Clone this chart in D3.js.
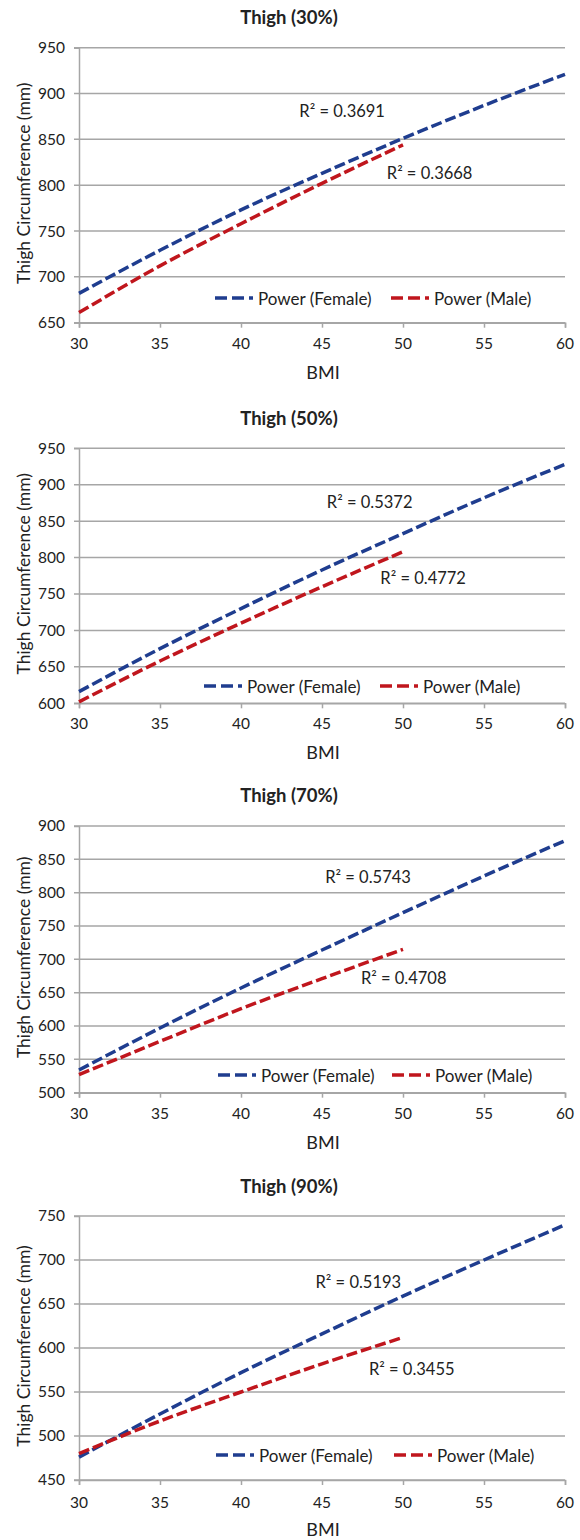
<!DOCTYPE html>
<html>
<head>
<meta charset="utf-8">
<script src="https://cdn.jsdelivr.net/npm/d3@7"></script>
<style>
  body { margin: 0; background: #fff; }
  svg text { font-family: Lato, "Open Sans", sans-serif; fill: #222; }
</style>
</head>
<body>
<svg id="chart" width="580" height="1540"></svg>
<script>
const bmiFemale = [30, 35, 40, 45, 50, 55, 60];
const bmiMale = [30, 35, 40, 45, 50];
const xTicks = [30, 35, 40, 45, 50, 55, 60];

const titles = ["Thigh (30%)", "Thigh (50%)", "Thigh (70%)", "Thigh (90%)"];

// thigh circumference (mm) for each panel
const female30 = [682, 729, 773, 813, 851, 887, 921];
const male30 = [661, 712, 758, 802, 844];
const female50 = [616, 675, 730, 783, 833, 882, 928];
const male50 = [602, 658, 710, 760, 808];
const female70 = [534, 597, 657, 714, 770, 825, 878];
const male70 = [527, 577, 626, 671, 715];
const female90 = [476, 525, 572, 616, 659, 700, 740];
const male90 = [480, 517, 550, 582, 612];

const yDomains = [[650, 950], [600, 950], [500, 900], [450, 750]];
const yTicksStep = 50;

const r2Female = ["0.3691", "0.5372", "0.5743", "0.5193"];
const r2Male = ["0.3668", "0.4772", "0.4708", "0.3455"];
// where the R² labels sit, in BMI / mm
const r2FemalePos = [[43.6, 881], [45.3, 876], [45.2, 823], [44.6, 675]];
const r2MalePos = [[49.0, 813], [48.6, 772], [47.4, 672], [47.9, 576]];

const femaleSeries = [female30, female50, female70, female90];
const maleSeries = [male30, male50, male70, male90];

// layout of each panel on the page
const layout = [
    { top: 47.7, bottom: 322.7, title: 17, tick: 343, bmi: 372, legY: 298, legF: 136, legM: 312 },
    { top: 448.3, bottom: 703.3, title: 418, tick: 723, bmi: 752, legY: 686, legF: 125, legM: 301 },
    { top: 826, bottom: 1092.7, title: 795, tick: 1113, bmi: 1142, legY: 1075, legF: 139, legM: 313 },
    { top: 1216, bottom: 1480, title: 1186, tick: 1502, bmi: 1529, legY: 1455, legF: 137, legM: 315 }
];

const left = 79, right = 565;
const blue = "#1f3d8f", red = "#c0161d", grid = "#a6a6a6";
const dash = "11,4";

const svg = d3.select("#chart");

titles.forEach((title, i) => {
    const L = layout[i];
    const g = svg.append("g");
    const x = d3.scaleLinear().domain([30, 60]).range([left, right]);
    const y = d3.scaleLinear().domain(yDomains[i]).range([L.bottom, L.top]);
    const yTicks = d3.range(yDomains[i][0], yDomains[i][1] + 1, yTicksStep);

    // title, centred on the whole figure
    g.append("text")
        .attr("x", 289).attr("y", L.title)
        .attr("text-anchor", "middle").attr("dominant-baseline", "central")
        .style("font-weight", "bold").style("font-size", "18.5px")
        .text(title);

    // gridlines
    g.selectAll(".grid").data(yTicks).enter().append("line")
        .attr("x1", left - 5).attr("x2", right)
        .attr("y1", d => y(d)).attr("y2", d => y(d))
        .attr("stroke", grid).attr("stroke-width", 1.5);

    // y axis
    const yAxis = g.append("g")
        .attr("transform", `translate(${left},0)`)
        .call(d3.axisLeft(y).tickValues(yTicks).tickSize(5).tickPadding(9));
    yAxis.select(".domain").attr("stroke", grid).attr("stroke-width", 1.5);
    yAxis.selectAll(".tick line").attr("stroke", "none");
    yAxis.selectAll("text").style("font-size", "15.5px").style("font-family", "Lato, sans-serif").attr("fill", "#222");

    // x axis
    const xAxis = g.append("g")
        .attr("transform", `translate(0,${L.bottom})`)
        .call(d3.axisBottom(x).tickValues(xTicks).tickSize(5).tickPadding(8));
    xAxis.select(".domain").attr("stroke", grid).attr("stroke-width", 1.5);
    xAxis.selectAll(".tick line").attr("stroke", grid).attr("stroke-width", 1.5);
    xAxis.selectAll("text").remove();
    g.selectAll(".xlab").data(xTicks).enter().append("text")
        .attr("x", d => x(d)).attr("y", L.tick)
        .attr("text-anchor", "middle").attr("dominant-baseline", "central")
        .style("font-size", "15.5px").text(d => d);

    // axis titles
    g.append("text")
        .attr("x", 323).attr("y", L.bmi)
        .attr("text-anchor", "middle").attr("dominant-baseline", "central")
        .style("font-size", "18px").text("BMI");
    g.append("text")
        .attr("transform", `translate(23,${(L.top + L.bottom) / 2 - 2}) rotate(-90)`)
        .attr("text-anchor", "middle").attr("dominant-baseline", "central")
        .style("font-size", "17.5px").text("Thigh Circumference (mm)");

    // trend lines
    const line = d3.line().x(d => x(d[0])).y(d => y(d[1])).curve(d3.curveMonotoneX);
    g.append("path")
        .datum(d3.zip(bmiFemale, femaleSeries[i]))
        .attr("d", line).attr("fill", "none")
        .attr("stroke", blue).attr("stroke-width", 3.5).attr("stroke-dasharray", dash);
    g.append("path")
        .datum(d3.zip(bmiMale, maleSeries[i]))
        .attr("d", line).attr("fill", "none")
        .attr("stroke", red).attr("stroke-width", 3.5).attr("stroke-dasharray", dash);

    // R² labels
    [[r2Female[i], r2FemalePos[i]], [r2Male[i], r2MalePos[i]]].forEach(([val, pos]) => {
        g.append("text")
            .attr("x", x(pos[0])).attr("y", y(pos[1]))
            .attr("dominant-baseline", "central")
            .style("font-size", "16.5px")
            .text("R² = " + val);
    });

    // legend
    [[L.legF, blue, "Power (Female)"], [L.legM, red, "Power (Male)"]].forEach(([dx, c, label]) => {
        const lx = left + dx;
        g.append("line")
            .attr("x1", lx).attr("x2", lx + 41)
            .attr("y1", L.legY).attr("y2", L.legY)
            .attr("stroke", c).attr("stroke-width", 3.5)
            .attr("stroke-dasharray", "12,5,12,5,4,10");
        g.append("text")
            .attr("x", lx + 43).attr("y", L.legY)
            .attr("dominant-baseline", "central")
            .style("font-size", "17px")
            .text(label);
    });
});
</script>
</body>
</html>
